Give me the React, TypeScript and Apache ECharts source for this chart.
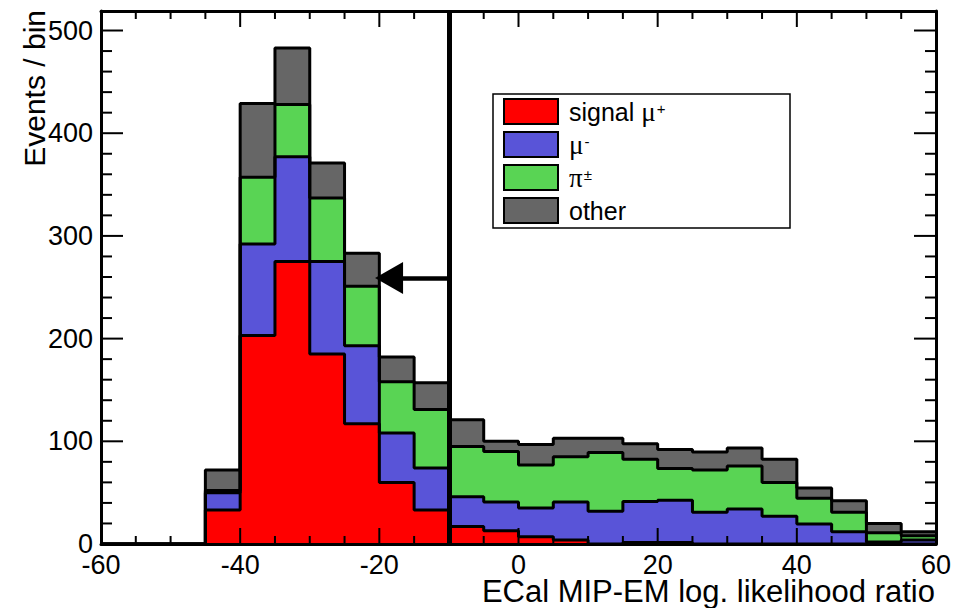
import React, { useEffect, useRef } from "react";
import * as echarts from "echarts";

// Bin lower edges (bin width 5) and the upper edge of the last bin
const binLowEdges = [-60, -55, -50, -45, -40, -35, -30, -25, -20, -15, -10, -5, 0, 5, 10, 15, 20, 25, 30, 35, 40, 45, 50, 55];
const lastEdge = 60;

// Per-bin contributions (events / bin)
const signalMuPlus = [0, 0, 0, 33, 203, 275, 185, 117, 60, 33, 17, 13, 7, 4, 0, 1.5, 1.5, 0, 0, 0, 0, 0, 0, 0];
const muMinus = [0, 0, 0, 17, 89, 102, 90, 76, 48, 41, 29, 28, 28, 37, 32, 40, 41, 31, 34, 27, 19.5, 12, 2, 4];
const piPM = [0, 0, 0, 2, 65, 51, 62, 58, 50, 57, 49, 49, 42, 44, 57, 41, 31, 41, 42, 33, 25, 19, 9, 4];
const other = [0, 0, 0, 20, 72, 55, 34, 32, 24, 26, 26, 10, 20, 18, 14, 15, 18.5, 17.5, 17.5, 22.5, 10, 11, 9, 4];

const seriesNames = ["signal μ+", "μ-", "π±", "other"];
const seriesColors = ["#ff0000", "#5954d8", "#59d454", "#666666"];

// tick positions
const xMajorTicks = [-60, -40, -20, 0, 20, 40, 60];
const xMinorTicks = [-55, -50, -45, -35, -30, -25, -15, -10, -5, 5, 10, 15, 25, 30, 35, 45, 50, 55];
const yMajorTicks = [0, 100, 200, 300, 400, 500];
const yMinorTicks = [20, 40, 60, 80, 120, 140, 160, 180, 220, 240, 260, 280, 320, 340, 360, 380, 420, 440, 460, 480];

const cutValue = -10;
const arrowY = 259;
const arrowHeadCenter = -18.6;

const X_MIN = -60;
const X_MAX = 60;
const Y_MAX = 519;

const GRID = { left: 101, right: 32, top: 11, bottom: 64 };
const W = 968;
const H = 608;

const FONT = '"Liberation Sans", Arial, Helvetica, sans-serif';

function cumulative(layers: number[][]): number[][] {
  const out: number[][] = [];
  let acc = layers[0].map(() => 0);
  for (const l of layers) {
    acc = acc.map((a, i) => a + l[i]);
    out.push(acc.slice());
  }
  return out;
}

function stepPoints(vals: number[]): number[][] {
  const pts = binLowEdges.map((e, i) => [e, vals[i]]);
  pts.push([lastEdge, vals[vals.length - 1]]);
  return pts;
}

export default function App() {
  const ref = useRef<HTMLDivElement>(null);

  useEffect(() => {
    if (!ref.current) return;
    const chart = echarts.init(ref.current, null, { renderer: "svg" });

    const layers = [signalMuPlus, muMinus, piPM, other];
    const cum = cumulative(layers);

    const series: any[] = [];
    for (let k = layers.length - 1; k >= 0; k--) {
      const s: any = {
        name: seriesNames[k],
        type: "line",
        step: "end",
        symbol: "none",
        data: stepPoints(cum[k]),
        lineStyle: { color: "#000", width: 3 },
        itemStyle: { color: seriesColors[k] },
        areaStyle: { color: seriesColors[k], opacity: 1 },
        emphasis: { disabled: true },
        z: 2,
      };
      if (k === 0) {
        s.markLine = {
          silent: true,
          animation: false,
          symbol: ["none", "none"],
          label: { show: false },
          emphasis: { disabled: true },
          lineStyle: { color: "#000", width: 4.5, type: "solid" },
          data: [
            { xAxis: cutValue, lineStyle: { color: "#000", width: 5, type: "solid" } },
            [
              { coord: [cutValue, arrowY], symbol: "none" },
              {
                coord: [arrowHeadCenter, arrowY],
                symbol: "triangle",
                symbolSize: [32, 28],
                itemStyle: { color: "#000" },
              },
            ],
          ],
        };
      }
      series.push(s);
    }

    const axisLineStyle = { color: "#000", width: 3 };

    const baseGraphic: any[] = [
      {
        id: "legendFrame",
        type: "rect",
        shape: { x: 493, y: 94, width: 297, height: 134 },
        style: { fill: "none", stroke: "#000", lineWidth: 1.5 },
        silent: true,
      },
      {
        id: "yTitle",
        type: "text",
        x: 34,
        y: 10,
        rotation: Math.PI / 2,
        style: { text: "Events / bin", font: `30px ${FONT}`, fill: "#000", textAlign: "right", textVerticalAlign: "middle" },
        silent: true,
      },
      {
        id: "xTitle",
        type: "text",
        x: 935,
        y: 591,
        style: { text: "ECal MIP-EM log. likelihood ratio", font: `31px ${FONT}`, fill: "#000", textAlign: "right", textVerticalAlign: "middle" },
        silent: true,
      },
    ];

    const option: any = {
      animation: false,
      backgroundColor: "#fff",
      grid: { ...GRID, containLabel: false },
      xAxis: [
        {
          type: "value", min: X_MIN, max: X_MAX, interval: 20, position: "bottom", z: 10,
          axisLine: { show: true, onZero: false, lineStyle: axisLineStyle },
          axisTick: { show: false },
          axisLabel: { show: true, color: "#000", fontSize: 27, fontFamily: FONT, margin: 7 },
          splitLine: { show: false },
        },
        {
          type: "value", min: X_MIN, max: X_MAX, interval: 20, position: "top", z: 10,
          axisLine: { show: true, onZero: false, lineStyle: axisLineStyle },
          axisTick: { show: false },
          axisLabel: { show: false },
          splitLine: { show: false },
        },
      ],
      yAxis: [
        {
          type: "value", min: 0, max: Y_MAX, interval: 100, position: "left", z: 10,
          axisLine: { show: true, onZero: false, lineStyle: axisLineStyle },
          axisTick: { show: false },
          axisLabel: { show: true, color: "#000", fontSize: 27, fontFamily: FONT, margin: 8, showMaxLabel: false },
          splitLine: { show: false },
        },
        {
          type: "value", min: 0, max: Y_MAX, interval: 100, position: "right", z: 10,
          axisLine: { show: true, onZero: false, lineStyle: axisLineStyle },
          axisTick: { show: false },
          axisLabel: { show: false },
          splitLine: { show: false },
        },
      ],
      legend: {
        show: true,
        orient: "vertical",
        left: 503,
        top: 98,
        padding: 0,
        itemWidth: 54,
        itemHeight: 25,
        itemGap: 6,
        icon: "rect",
        selectedMode: false,
        itemStyle: { borderColor: "#000", borderWidth: 2 },
        data: seriesNames.map((n, i) => ({ name: n, icon: "rect", itemStyle: { color: seriesColors[i], borderColor: "#000", borderWidth: 2 } })),
        formatter: (name: string) => {
          if (name === seriesNames[0]) return "signal {g|μ}{s|+}";
          if (name === seriesNames[1]) return "{g|μ}{s|-}";
          if (name === seriesNames[2]) return "{g|π}{s|±}";
          return name;
        },
        textStyle: {
          color: "#000",
          fontSize: 25,
          fontFamily: FONT,
          lineHeight: 22,
          padding: [0, 0, 0, 6],
          rich: {
            g: { fontFamily: '"Liberation Serif", "Times New Roman", serif', fontSize: 27, color: "#000", lineHeight: 22 },
            s: { fontFamily: FONT, fontSize: 15, color: "#000", verticalAlign: "top", lineHeight: 12, padding: [0, 0, 0, 1] },
          },
        },
      },
      graphic: baseGraphic,
      series,
    };

    chart.setOption(option);

    // Tick marks: positions converted through the grid's own axes
    const px = (x: number, y: number): number[] =>
      chart.convertToPixel({ gridIndex: 0 }, [x, y]) as unknown as number[];
    const T = 2; // tick thickness
    const tickEls: any[] = [];
    const rect = (x: number, y: number, w: number, h: number) => ({
      type: "rect",
      shape: { x, y, width: w, height: h },
      style: { fill: "#000" },
      silent: true,
      z: 100,
    });
    const addX = (v: number, len: number) => {
      const b = px(v, 0);
      const t = px(v, Y_MAX);
      if (!b || !t) return;
      tickEls.push(rect(b[0] - T / 2, b[1] - len, T, len));
      tickEls.push(rect(t[0] - T / 2, t[1], T, len));
    };
    const addY = (v: number, len: number) => {
      const l = px(X_MIN, v);
      const r = px(X_MAX, v);
      if (!l || !r) return;
      tickEls.push(rect(l[0], l[1] - T / 2, len, T));
      tickEls.push(rect(r[0] - len, r[1] - T / 2, len, T));
    };
    xMajorTicks.forEach((v) => addX(v, 16));
    xMinorTicks.forEach((v) => addX(v, 8));
    yMajorTicks.forEach((v) => addY(v, 22));
    yMinorTicks.forEach((v) => addY(v, 11));

    chart.setOption({ graphic: [...baseGraphic, ...tickEls] });

    return () => chart.dispose();
  }, []);

  return (
    <div
      ref={ref}
      style={{ position: "fixed", left: 0, top: 0, width: W, height: H, background: "#fff" }}
    />
  );
}
